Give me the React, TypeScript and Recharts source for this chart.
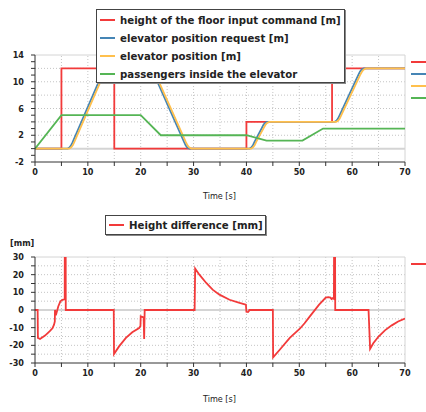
import React from "react"
import { LineChart, Line, XAxis, YAxis, ReferenceLine } from "recharts"

// time axis
const timeTicks = [0, 5, 10, 15, 20, 25, 30, 35, 40, 45, 50, 55, 60, 65, 70]
const timeLabels = [0, 10, 20, 30, 40, 50, 60, 70]
const timeGrid = [5, 10, 15, 20, 25, 30, 35, 40, 45, 50, 55, 60, 65]

// upper plot [m]
const topTicks = [-2, -1, 0, 1, 2, 3, 4, 5, 6, 7, 8, 9, 10, 11, 12, 13, 14]
const topLabels = [14, 10, 6, 2, -2]
const topGrid = [2, 4, 6, 8, 10, 12]

const floorCmdT = [0, 5, 5, 15, 15, 40, 40, 56.2, 56.2, 70]
const floorCmdV = [0, 0, 12, 12, 0, 0, 4, 4, 12, 12]

const requestT = [0, 6.2, 6.5, 6.8, 7.1, 12.6, 12.9, 13.2, 13.6, 21.6, 22.0, 22.3, 22.6, 28.2, 28.5, 28.8, 29.2, 40.6, 40.9, 41.2, 41.5, 42.9, 43.2, 43.5, 43.9, 56.7, 57.0, 57.3, 57.6, 61.2, 61.5, 61.8, 62.2, 70]
const requestV = [0, 0, 0.15, 0.45, 0.95, 11.0, 11.5, 11.85, 12, 12, 11.85, 11.5, 11.0, 1.0, 0.5, 0.15, 0, 0, 0.15, 0.45, 0.95, 3.05, 3.55, 3.85, 4, 4, 4.15, 4.45, 4.95, 11.05, 11.55, 11.85, 12, 12]

const positionT = [0, 6.5, 6.85, 7.15, 7.45, 12.9, 13.25, 13.55, 14.0, 21.9, 22.3, 22.6, 22.9, 28.5, 28.85, 29.15, 29.6, 40.9, 41.25, 41.55, 41.85, 43.2, 43.55, 43.85, 44.3, 57.0, 57.35, 57.65, 57.95, 61.5, 61.85, 62.15, 62.6, 70]
const positionV = [0, 0, 0.2, 0.5, 1.0, 10.95, 11.5, 11.8, 12, 12, 11.8, 11.5, 10.95, 1.05, 0.5, 0.2, 0, 0, 0.2, 0.5, 1.0, 3.0, 3.5, 3.8, 4, 4, 4.2, 4.5, 5.0, 11.0, 11.5, 11.8, 12, 12]

const passengersT = [0, 5, 20, 23.8, 40, 43.8, 50.6, 54.5, 70]
const passengersV = [0, 5, 5, 2, 2, 1.2, 1.2, 3, 3]

// lower plot [mm]
const diffTicks = [-30, -25, -20, -15, -10, -5, 0, 5, 10, 15, 20, 25, 30]
const diffLabels = [30, 20, 10, 0, -10, -20, -30]
const diffGrid = [-25, -20, -15, -10, -5, 5, 10, 15, 20, 25]

const diffT = [0, 0.5, 0.55, 0.95, 1.9, 2.8, 3.3, 3.6, 3.75, 3.78, 3.85, 3.95, 4.4, 4.8, 5.2, 5.55, 5.62, 5.65, 5.8, 5.82, 14.9, 14.95, 15.9, 17.2, 18.4, 19.7, 19.95, 20.0, 20.55, 20.65, 20.75, 30.2, 30.3, 31.1, 32.4, 33.6, 34.9, 36.8, 38.7, 39.9, 40.0, 40.3, 40.5, 40.55, 45.0, 45.05, 46.3, 48.2, 50.1, 51.0, 52.0, 53.75, 55.0, 55.5, 55.9, 56.1, 56.35, 56.55, 56.6, 56.75, 56.8, 63.1, 63.4, 64.0, 65.0, 66.2, 67.5, 68.7, 70]
const diffV = [0, 0, -15.8, -16.4, -14.5, -12, -10.4, -8.3, -6.5, 0, -1, -3, 2, 4.9, 5.8, 6, 6, 60, 60, 0, 0, -24.9, -20.6, -15.8, -12.6, -10.2, -9.0, -3.6, -4.2, -16.4, 0, 0, 23.4, 20, 15.3, 11.5, 8.7, 5.8, 4, 3, -1, -1.2, -0.5, 0, 0, -26.8, -22.5, -15.8, -10.6, -7.5, -3.6, 3, 7.0, 7.3, 7.0, 6.2, 6.7, 6.3, 60, 60, 0, 0, -22, -18.8, -15, -11.5, -8.7, -6.5, -4.8]

const topSeries = [
    { name: "height of the floor input command [m]", color: "#f23a3a", t: floorCmdT, v: floorCmdV },
    { name: "elevator position request [m]", color: "#4585b5", t: requestT, v: requestV },
    { name: "elevator position [m]", color: "#ffc04d", t: positionT, v: positionV },
    { name: "passengers inside the elevator", color: "#55b555", t: passengersT, v: passengersV },
]

const zip = (t: number[], v: number[]) => t.map((x, i) => ({ t: x, v: v[i] }))

const FONT = '"DejaVu Sans Condensed", "DejaVu Sans", sans-serif'
const INK = "#222"
const GRID = "#c4c4c4"
const FRAME = "#d4d4d4"

function YTick(props: any) {
    const { x, y, payload, labels } = props
    if (!labels.includes(payload.value)) return <g />
    return (
        <text x={x} y={y} dy="0.35em" textAnchor="end" fontFamily={FONT} fontSize={9} fontWeight="bold" fill={INK}>
            {payload.value}
        </text>
    )
}

function XTick(props: any) {
    const { x, y, payload } = props
    if (!timeLabels.includes(payload.value)) return <g />
    return (
        <text x={x} y={y} dy="0.71em" textAnchor="middle" fontFamily={FONT} fontSize={9} fontWeight="bold" fill={INK}>
            {payload.value}
        </text>
    )
}

function Plot({ height, margin, yDomain, yTicks, yLabels, yGrid, series }: any) {
    return (
        <LineChart width={426} height={height} margin={margin}>
            <XAxis
                type="number"
                dataKey="t"
                domain={[0, 70]}
                ticks={timeTicks}
                interval={0}
                allowDataOverflow
                height={20}
                tickSize={4}
                tickMargin={3}
                stroke="#333"
                tick={<XTick />}
            />
            <YAxis
                type="number"
                domain={yDomain}
                ticks={yTicks}
                interval={0}
                allowDataOverflow
                width={35}
                tickSize={4}
                tickMargin={7}
                stroke="#333"
                tick={(p: any) => <YTick {...p} labels={yLabels} />}
            />
            {timeGrid.map((v) => (
                <ReferenceLine key={"x" + v} x={v} stroke={GRID} strokeDasharray="1 2" />
            ))}
            {yGrid.map((v: number) => (
                <ReferenceLine key={"y" + v} y={v} stroke={GRID} strokeDasharray="1 2" />
            ))}
            <ReferenceLine y={0} stroke={FRAME} strokeWidth={2} />
            <ReferenceLine y={yDomain[1]} stroke={FRAME} />
            <ReferenceLine x={70} stroke={FRAME} />
            {series.map((s: any) => (
                <Line
                    key={s.name}
                    data={zip(s.t, s.v)}
                    dataKey="v"
                    type="linear"
                    stroke={s.color}
                    strokeWidth={1.8}
                    dot={false}
                    activeDot={false}
                    isAnimationActive={false}
                />
            ))}
        </LineChart>
    )
}

function LegendRow({ color, label }: { color: string; label: string }) {
    return (
        <div style={{ display: "flex", alignItems: "center", height: 18 }}>
            <div style={{ width: 15, height: 2, background: color, marginLeft: 3, marginRight: 5 }} />
            <span style={{ fontFamily: FONT, fontWeight: "bold", fontSize: 11.3, color: INK, whiteSpace: "nowrap" }}>{label}</span>
        </div>
    )
}

function Stub({ top, color }: { top: number; color: string }) {
    return <div style={{ position: "absolute", left: 411, top: top - 1, width: 15, height: 2, background: color }} />
}

const caption: React.CSSProperties = {
    position: "absolute",
    fontFamily: FONT,
    fontSize: 9,
    color: INK,
    whiteSpace: "nowrap",
}

export default function App() {
    return (
        <div style={{ position: "absolute", left: 0, top: 0, width: 426, height: 412, background: "#fff", overflow: "hidden" }}>
            <div style={{ position: "absolute", left: 0, top: 0 }}>
                <Plot
                    height={200}
                    margin={{ top: 55, right: 21, bottom: 18, left: 0 }}
                    yDomain={[-2, 14]}
                    yTicks={topTicks}
                    yLabels={topLabels}
                    yGrid={topGrid}
                    series={topSeries}
                />
            </div>
            <div style={{ position: "absolute", left: 0, top: 200 }}>
                <Plot
                    height={212}
                    margin={{ top: 57, right: 21, bottom: 29, left: 0 }}
                    yDomain={[-30, 30]}
                    yTicks={diffTicks}
                    yLabels={diffLabels}
                    yGrid={diffGrid}
                    series={[{ name: "Height difference [mm]", color: "#f23a3a", t: diffT, v: diffV }]}
                />
            </div>

            <div
                style={{
                    position: "absolute",
                    left: 96,
                    top: 9,
                    width: 247,
                    height: 71,
                    background: "#fff",
                    border: "1px solid #444",
                    boxShadow: "1px 1px 0 #888",
                    paddingTop: 1,
                }}
            >
                {topSeries.map((s) => (
                    <LegendRow key={s.name} color={s.color} label={s.name} />
                ))}
            </div>
            <div
                style={{
                    position: "absolute",
                    left: 105,
                    top: 215,
                    width: 159,
                    height: 18,
                    background: "#fff",
                    border: "1px solid #444",
                    boxShadow: "1px 1px 0 #888",
                }}
            >
                <LegendRow color="#f23a3a" label="Height difference [mm]" />
            </div>

            {topSeries.map((s, i) => (
                <Stub key={s.name} top={62 + i * 12} color={s.color} />
            ))}
            <Stub top={264} color="#f23a3a" />

            <div style={{ ...caption, left: 10, top: 238, fontWeight: "bold" }}>[mm]</div>
            <div style={{ ...caption, left: 203, top: 191 }}>Time [s]</div>
            <div style={{ ...caption, left: 203, top: 394 }}>Time [s]</div>
        </div>
    )
}
